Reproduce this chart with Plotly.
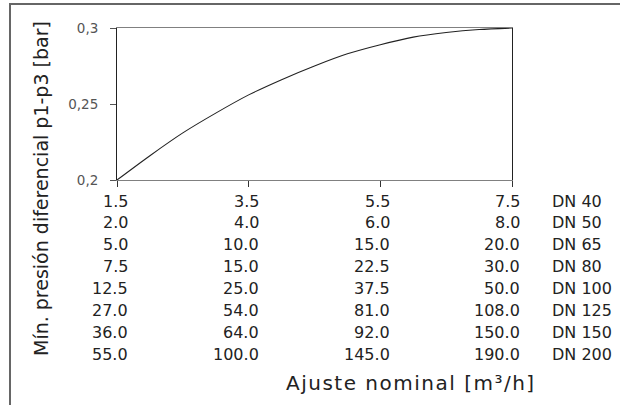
import plotly.graph_objects as go

# Curve: minimum differential pressure vs nominal setting (DN 40 scale)
curve_x = [1.5, 2.0, 2.5, 3.0, 3.5, 4.0, 4.5, 5.0, 5.5, 6.0, 6.5, 7.0, 7.5]
curve_y = [0.200, 0.216, 0.231, 0.244, 0.256, 0.266, 0.275, 0.283, 0.289, 0.294, 0.297, 0.299, 0.300]

# Axis ticks
x_ticks = [1.5, 3.5, 5.5, 7.5]
y_ticks = [0.2, 0.25, 0.3]
y_tick_text = ["0,2", "0,25", "0,3"]

# Nominal setting table, one row per DN
dn_labels = ["DN 40", "DN 50", "DN 65", "DN 80", "DN 100", "DN 125", "DN 150", "DN 200"]
dn_values = [
    ["1.5", "3.5", "5.5", "7.5"],
    ["2.0", "4.0", "6.0", "8.0"],
    ["5.0", "10.0", "15.0", "20.0"],
    ["7.5", "15.0", "22.5", "30.0"],
    ["12.5", "25.0", "37.5", "50.0"],
    ["27.0", "54.0", "81.0", "108.0"],
    ["36.0", "64.0", "92.0", "150.0"],
    ["55.0", "100.0", "145.0", "190.0"],
]

x_title = "Ajuste nominal [m³/h]"
y_title = "Mín. presión diferencial p1-p3 [bar]"

FONT = "DejaVu Sans, Liberation Sans, Arial, sans-serif"
TXT = "#222222"

fig = go.Figure()
fig.add_trace(go.Scatter(
    x=curve_x, y=curve_y, mode="lines",
    line=dict(color="#222222", width=1.1, shape="spline", smoothing=0.8),
    hoverinfo="skip", showlegend=False,
))

L, R, T, B = 117, 108, 28, 225
W, H = 620, 405
pw = W - L - R
ph = H - T - B

def px_to_paper_x(px):
    return (px - L) / pw

def px_to_paper_y(py):
    return (H - B - py) / ph

annotations = []
row0 = 21
row_step = 21.9
col_shift = [13, 12, 12, 10]
for i, row in enumerate(dn_values):
    for j, val in enumerate(row):
        annotations.append(dict(
            x=x_ticks[j], xref="x", y=0, yref="paper",
            yshift=-(row0 + row_step * i), xshift=col_shift[j],
            text=val, showarrow=False, xanchor="right", yanchor="middle",
            font=dict(family=FONT, size=16, color=TXT),
        ))
    annotations.append(dict(
        x=x_ticks[-1], xref="x", y=0, yref="paper",
        yshift=-(row0 + row_step * i), xshift=38,
        text=dn_labels[i], showarrow=False, xanchor="left", yanchor="middle",
        font=dict(family=FONT, size=16, color=TXT),
    ))

annotations.append(dict(
    x=px_to_paper_x(411), xref="paper", y=px_to_paper_y(383), yref="paper",
    text='<span style="letter-spacing:1.5px">' + x_title + '</span>',
    showarrow=False, xanchor="center", yanchor="middle",
    font=dict(family=FONT, size=20, color=TXT),
))
annotations.append(dict(
    x=px_to_paper_x(41), xref="paper", y=px_to_paper_y(189), yref="paper",
    text=y_title, showarrow=False, xanchor="center", yanchor="middle",
    textangle=-90,
    font=dict(family=FONT, size=19, color=TXT),
))

shapes = [dict(
    type="rect", xref="paper", yref="paper",
    x0=px_to_paper_x(10), x1=px_to_paper_x(640),
    y0=px_to_paper_y(430), y1=px_to_paper_y(4),
    line=dict(color="#666666", width=2), fillcolor="rgba(0,0,0,0)",
    layer="below",
)]

fig.update_layout(
    width=W, height=H,
    margin=dict(l=L, r=R, t=T, b=B, pad=0),
    paper_bgcolor="white", plot_bgcolor="white",
    showlegend=False,
    annotations=annotations, shapes=shapes,
    xaxis=dict(
        range=[1.5, 7.5], tickvals=x_ticks, showticklabels=False,
        ticks="outside", ticklen=6, tickcolor="#333333", tickwidth=1,
        showline=True, linecolor="#808080", linewidth=1, mirror=True,
        showgrid=False, zeroline=False, fixedrange=True,
    ),
    yaxis=dict(
        range=[0.2, 0.3], tickvals=y_ticks, ticktext=y_tick_text,
        ticks="outside", ticklen=6, tickcolor="#555555", tickwidth=1,
        tickfont=dict(family=FONT, size=13.5, color="#555555"),
        ticklabelstandoff=9,
        showline=True, linecolor="#222222", linewidth=1, mirror=True,
        showgrid=False, zeroline=False, fixedrange=True,
    ),
)

fig.write_html(
    "out.html",
    config={"displayModeBar": False},
    post_script="document.body.style.margin='0';document.body.style.overflow='hidden';",
)
